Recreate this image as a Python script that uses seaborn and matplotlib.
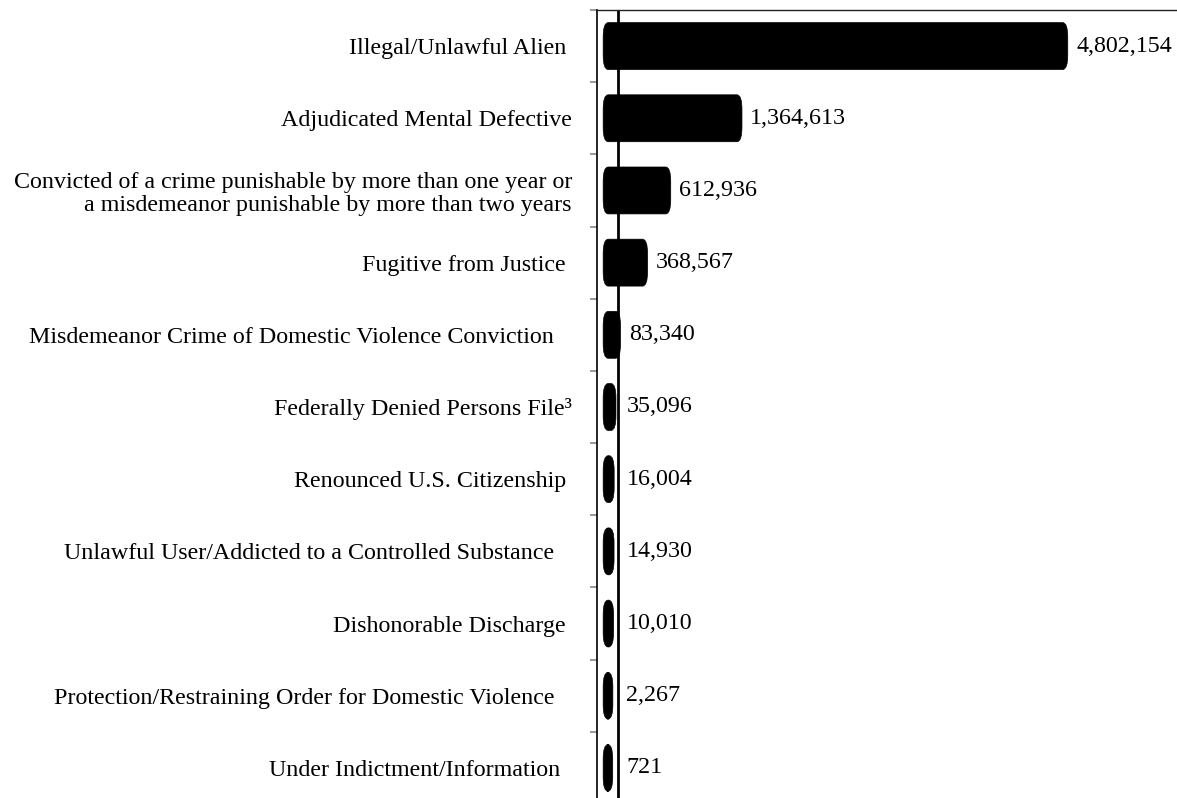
import matplotlib
matplotlib.use('Agg')
import matplotlib.pyplot as plt
import seaborn as sns
import pandas as pd
from matplotlib.patches import FancyBboxPatch

# categories, top to bottom (trailing spaces copy the ragged label edges)
categories = ['Illegal/Unlawful Alien ',
              'Adjudicated Mental Defective',
              'Convicted of a crime punishable by more than one year or\na misdemeanor punishable by more than two years',
              'Fugitive from Justice ',
              'Misdemeanor Crime of Domestic Violence Conviction   ',
              'Federally Denied Persons File\u00b3',
              'Renounced U.S. Citizenship ',
              'Unlawful User/Addicted to a Controlled Substance   ',
              'Dishonorable Discharge ',
              'Protection/Restraining Order for Domestic Violence   ',
              'Under Indictment/Information  ']
denials = [4802154, 1364613, 612936, 368567, 83340, 35096, 16004, 14930, 10010, 2267, 721]

df = pd.DataFrame({'reason': categories, 'count': denials})

sns.set_style('white')
plt.rcParams['font.family'] = ['Liberation Serif', 'DejaVu Serif']
plt.rcParams['text.color'] = 'black'
plt.rcParams['ytick.color'] = 'black'

fig = plt.figure(figsize=(11.77, 7.98), dpi=100)
ax = fig.add_axes([597/1177, 1-804/798, 1-597/1177, 794/798])

sns.barplot(data=df, x='count', y='reason', orient='h', color='black', width=0.65, ax=ax)

ax.set_xlim(-165000, 5955000)
ax.set_ylim(10.5, -0.5)

# swap the plain rectangles for rounded ones
left_pad = 100000
r = 52700
for p in list(ax.patches):
    x0, y0 = p.get_x(), p.get_y()
    w, h = p.get_width(), p.get_height()
    p.remove()
    fb = FancyBboxPatch((x0 - left_pad, y0), w + left_pad, h,
                        boxstyle='round,pad=0,rounding_size=%d' % r,
                        mutation_aspect=3.9e-6, fc='black', ec='black', lw=0.5)
    ax.add_patch(fb)

line_x = 57000
ax.axvline(line_x, color='black', lw=2)

for i, v in enumerate(denials):
    ax.annotate(f'{v:,}', xy=(max(v, line_x), i), xytext=(6, 0), textcoords='offset points',
                ha='left', va='center', fontsize=17.3, color='black')

ax.set_xlabel('')
ax.set_ylabel('')
ax.set_xticks([])
ax.set_yticks(range(len(categories)))
ax.set_yticklabels(categories, fontsize=17.3, linespacing=1.12, color='black')
ax.tick_params(axis='y', which='major', left=False, length=0, pad=18)
ax.set_yticks([i + 0.5 for i in range(-1, len(categories))], minor=True)
ax.tick_params(axis='y', which='minor', left=True, length=5, width=1.2, color='#888888', direction='out')

for s in ['right', 'bottom']:
    ax.spines[s].set_visible(False)
ax.spines['left'].set_color('black')
ax.spines['left'].set_linewidth(1.2)
ax.spines['top'].set_color('#222222')
ax.spines['top'].set_linewidth(1.0)

fig.savefig('out.png', dpi=100)
